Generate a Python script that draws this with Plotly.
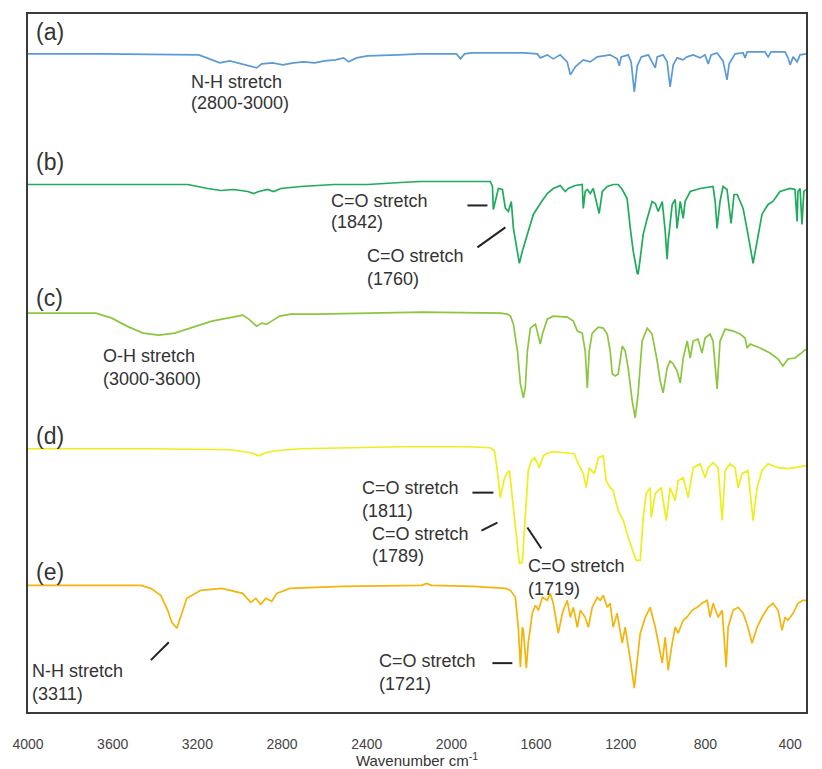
import plotly.graph_objects as go

# ---------------- data (wavenumber in cm^-1, relative transmittance in a.u.) ----------------
wn_a = [4000, 3656, 3193, 3146, 3094, 3047, 2995, 2957, 2920, 2896, 2844, 2797, 2745, 2698, 2646, 2599,
        2547, 2509, 2486, 2448, 2396, 2250, 2151, 1976, 1957, 1938, 1905, 1655, 1594, 1580, 1547, 1519,
        1486, 1453, 1438, 1415, 1377, 1344, 1311, 1250, 1217, 1207, 1198, 1165, 1151, 1136, 1122, 1103,
        1070, 1037, 1028, 1000, 981, 967, 952, 934, 906, 887, 858, 825, 802, 787, 773, 745, 731, 717,
        698, 688, 660, 622, 613, 603, 519, 504, 490, 424, 410, 400, 386, 367, 353, 325]
t_a = [100, 100, 99, 95, 91, 93, 90, 88, 86, 90, 91, 89, 91, 92, 91, 93,
       94, 96, 92, 96, 98, 99, 100, 100, 95, 100, 101, 101, 100, 96, 99, 95,
       99, 92, 79, 87, 94, 92, 97, 99, 95, 88, 97, 99, 92, 62, 88, 97,
       99, 86, 97, 99, 92, 67, 89, 96, 94, 97, 99, 96, 99, 90, 99, 101, 97, 93,
       74, 90, 100, 101, 96, 102, 102, 97, 102, 102, 96, 89, 97, 92, 99, 100]

wn_b = [4000, 3245, 3151, 3090, 3028, 2962, 2934, 2910, 2868, 2840, 2806, 2712, 2556, 2396, 2240, 2146,
        1816, 1806, 1802, 1787, 1778, 1759, 1745, 1731, 1717, 1707, 1688, 1679, 1665, 1641, 1613, 1580,
        1547, 1519, 1486, 1462, 1448, 1415, 1382, 1377, 1368, 1358, 1344, 1330, 1302, 1287, 1264, 1235,
        1212, 1193, 1170, 1155, 1141, 1122, 1118, 1108, 1094, 1075, 1052, 1037, 1023, 1004, 990, 981,
        976, 957, 943, 934, 919, 905, 896, 872, 825, 764, 754, 745, 731, 717, 698, 679, 665, 650,
        622, 599, 575, 556, 533, 519, 504, 481, 448, 400, 377, 367, 363, 353, 344, 335, 325]
t_b = [99, 99, 95, 93, 94, 92, 90, 92, 94, 92, 95, 97, 99, 99, 101, 102,
       102, 97, 74, 87, 95, 94, 75, 72, 82, 55, 32, 20, 32, 49, 69, 80,
       90, 95, 98, 92, 95, 98, 99, 75, 92, 94, 90, 95, 70, 92, 97, 99,
       99, 94, 85, 55, 32, 10, 9, 25, 49, 65, 82, 80, 72, 82, 52, 24,
       42, 79, 84, 55, 82, 65, 82, 92, 95, 97, 82, 55, 82, 97, 94, 60, 89, 89,
       75, 49, 20, 42, 69, 74, 79, 82, 92, 95, 94, 62, 92, 95, 59, 92, 94]

wn_c = [4000, 3679, 3604, 3533, 3457, 3382, 3307, 3231, 3132, 3033, 2986, 2957, 2920, 2896, 2872, 2849,
        2811, 2759, 2637, 2387, 2137, 1769, 1736, 1721, 1707, 1688, 1674, 1660, 1651, 1641, 1627, 1603,
        1589, 1580, 1570, 1566, 1547, 1519, 1453, 1424, 1405, 1382, 1368, 1358, 1349, 1335, 1306, 1283,
        1264, 1250, 1240, 1226, 1212, 1193, 1179, 1165, 1146, 1132, 1118, 1099, 1075, 1052, 1028, 1014,
        1000, 981, 967, 952, 934, 919, 905, 886, 872, 858, 835, 816, 802, 778, 764, 745, 731, 707,
        669, 636, 613, 603, 589, 542, 495, 457, 434, 410, 377, 353, 325]
t_c = [100, 100, 95, 87, 80, 78, 80, 85, 92, 96, 98, 94, 87, 90, 89, 92,
       97, 99, 99, 100, 101, 100, 99, 97, 89, 62, 29, 15, 25, 62, 85, 89,
       75, 69, 79, 82, 94, 97, 96, 92, 82, 80, 62, 25, 62, 80, 86, 85,
       79, 62, 39, 37, 39, 67, 62, 45, 12, -5, 19, 72, 85, 79, 52, 32,
       20, 45, 52, 49, 42, 30, 55, 72, 55, 72, 74, 60, 75, 79, 72, 24, 72, 84,
       82, 79, 75, 65, 69, 65, 60, 54, 47, 54, 55, 59, 64]

wn_d = [4000, 3420, 3042, 2948, 2910, 2877, 2830, 2712, 2240, 1924, 1816, 1797, 1783, 1769, 1750, 1736,
        1726, 1712, 1693, 1679, 1665, 1651, 1637, 1622, 1608, 1594, 1585, 1566, 1542, 1514, 1448, 1420,
        1401, 1377, 1363, 1349, 1325, 1306, 1283, 1269, 1250, 1236, 1212, 1188, 1165, 1141, 1127, 1108,
        1094, 1080, 1061, 1056, 1037, 1009, 985, 967, 943, 929, 905, 882, 858, 825, 802, 787, 764, 740,
        721, 707, 684, 660, 646, 627, 599, 575, 556, 533, 504, 457, 410, 377, 325]
t_d = [98, 98, 97, 94, 91, 94, 96, 98, 100, 100, 99, 96, 76, 49, 68, 74,
       76, 49, 9, -17, -16, 26, 76, 86, 89, 84, 79, 91, 94, 95, 94, 93,
       83, 73, 59, 79, 73, 89, 91, 66, 59, 56, 36, 26, 9, -7, -14, -14,
       29, 53, 59, 29, 53, 59, 26, 59, 46, 66, 69, 49, 79, 83, 69, 79, 84, 79,
       26, 76, 83, 79, 59, 73, 76, 26, 59, 76, 83, 79, 78, 79, 81]

wn_e = [4000, 3467, 3420, 3373, 3340, 3321, 3297, 3274, 3250, 3184, 3085, 2986, 2948, 2924, 2901, 2877,
        2849, 2825, 2764, 2514, 2141, 2118, 2094, 1896, 1745, 1721, 1698, 1684, 1674, 1665, 1660, 1646,
        1637, 1618, 1603, 1589, 1570, 1547, 1533, 1519, 1495, 1476, 1453, 1438, 1424, 1405, 1391, 1368,
        1353, 1335, 1311, 1297, 1283, 1264, 1250, 1236, 1217, 1193, 1179, 1155, 1136, 1122, 1108, 1084,
        1061, 1037, 1023, 1004, 990, 976, 957, 943, 929, 905, 887, 863, 839, 816, 792, 778, 764, 740,
        721, 702, 693, 669, 646, 622, 599, 580, 556, 533, 504, 481, 457, 438, 424, 410, 386, 363, 339, 325]
t_e = [99, 99, 96, 89, 74, 62, 56, 71, 86, 94, 96, 91, 82, 86, 80, 86,
       83, 91, 96, 98, 99, 101, 99, 98, 96, 94, 87, 57, 17, 57, 54, 16,
       41, 71, 79, 74, 87, 84, 91, 81, 51, 71, 84, 67, 77, 57, 74, 67,
       57, 77, 87, 84, 89, 77, 81, 57, 71, 41, 57, 24, -4, 24, 51, 67,
       77, 57, 41, 21, 47, 14, 41, 57, 51, 64, 67, 74, 77, 81, 84, 67, 81, 67,
       74, 17, 57, 74, 77, 71, 57, 41, 57, 67, 77, 81, 74, 54, 67, 64, 71, 81, 84, 84]

series_names = ["(a)", "(b)", "(c)", "(d)", "(e)"]
series_wn = [wn_a, wn_b, wn_c, wn_d, wn_e]
series_t = [t_a, t_b, t_c, t_d, t_e]
stack_offsets = [560, 430, 300, 166, 28]
series_colors = ["#5b9bd5", "#1fab5c", "#8cc63f", "#eeee1c", "#f3b50c"]

tick_vals = [4000, 3600, 3200, 2800, 2400, 2000, 1600, 1200, 800, 400]

# ---------------- figure ----------------
# the page body adds an 8 px margin, so the figure is drawn 8 px in from the window corner
BODY = 8
W, H = 814, 761
ML, MR, MT, MB = 19, 16, 4, 57
PW, PH = W - ML - MR, H - MT - MB   # 779 x 700


def px(x):
    """window pixel x -> paper fraction"""
    return (x - BODY - ML) / PW


def py(y):
    """window pixel y -> paper fraction"""
    return (BODY + MT + PH - y) / PH


fig = go.Figure()
for name, wn, t, off, col in zip(series_names, series_wn, series_t, stack_offsets, series_colors):
    fig.add_trace(go.Scatter(
        x=wn, y=[off + v for v in t], mode="lines", name=name,
        line=dict(color=col, width=1.7), hoverinfo="x+name", showlegend=False))

FONT = "Liberation Sans, Arial, sans-serif"
txt_font = dict(family=FONT, size=18, color="#333333")
annotations = []

# panel letters
for lab, ycen in zip(series_names, [30, 160, 297, 435, 572]):
    annotations.append(dict(text=lab, xref="paper", yref="paper", x=px(33), y=py(ycen),
                            xanchor="left", yanchor="middle", showarrow=False,
                            font=dict(family=FONT, size=23, color="#333333")))

labels = [
    ("N-H stretch", "(2800-3000)", 188, 80, 101),
    ("C=O stretch", "(1842)", 328, 200, 221),
    ("C=O stretch", "(1760)", 364, 255, 278),
    ("O-H stretch", "(3000-3600)", 100, 355, 378),
    ("C=O stretch", "(1811)", 359, 487, 510),
    ("C=O stretch", "(1789)", 369, 533, 556),
    ("C=O stretch", "(1719)", 526, 566, 589),
    ("N-H stretch", "(3311)", 29, 671, 694),
    ("C=O stretch", "(1721)", 376, 661, 684),
]
for l1, l2, xl, y1, y2 in labels:
    for s, yy in ((l1, y1), (l2, y2)):
        annotations.append(dict(text=s, xref="paper", yref="paper", x=px(xl), y=py(yy),
                                xanchor="left", yanchor="middle", showarrow=False, font=txt_font))

leaders = [
    (467, 204, 487, 204),
    (477, 246, 505, 226),
    (472, 492, 493, 492),
    (481, 530, 497, 522),
    (527, 527, 541, 548),
    (150, 660, 168, 642),
    (492, 663, 512, 663),
]
shapes = [dict(type="line", xref="paper", yref="paper", x0=px(a), y0=py(b), x1=px(c), y1=py(d),
               line=dict(color="#222222", width=2)) for a, b, c, d in leaders]

fig.update_layout(
    width=W, height=H,
    margin=dict(l=ML, r=MR, t=MT, b=MB),
    paper_bgcolor="white", plot_bgcolor="white",
    annotations=annotations, shapes=shapes,
    xaxis=dict(range=[4000, 325], tickvals=tick_vals, ticks="", showgrid=False, zeroline=False,
               showline=True, mirror=True, linecolor="#3a3a3a", linewidth=2,
               ticklabelstandoff=18,
               tickfont=dict(family=FONT, size=14, color="#444444"),
               title=dict(text="Wavenumber cm<sup>-1</sup>", standoff=0,
                          font=dict(family=FONT, size=15, color="#333333"))),
    yaxis=dict(range=[0, 700], showticklabels=False, ticks="", showgrid=False, zeroline=False,
               showline=True, mirror=True, linecolor="#3a3a3a", linewidth=2),
)

fig.write_html("out.html")
